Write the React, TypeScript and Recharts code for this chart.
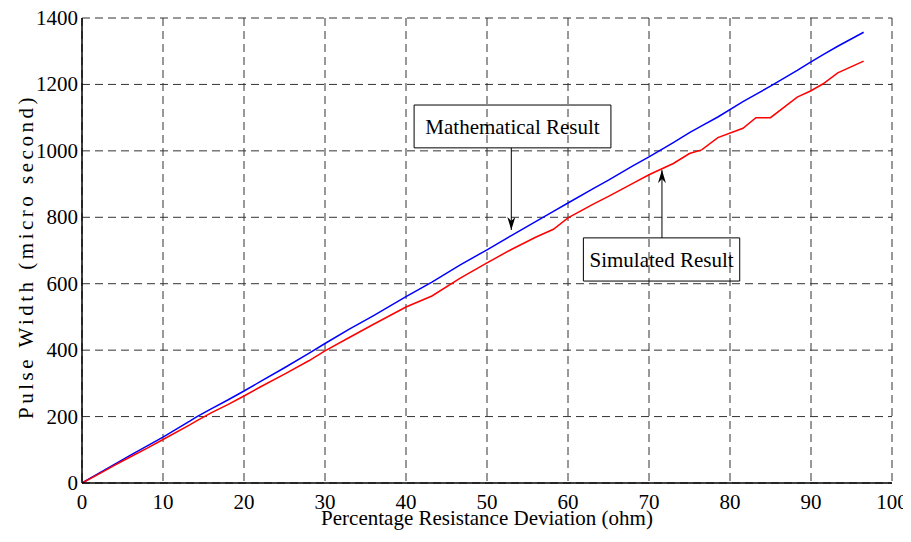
import React from 'react';
import {
  LineChart,
  Line,
  XAxis,
  YAxis,
  CartesianGrid,
  ReferenceArea,
  ReferenceLine,
} from 'recharts';

const deviation = [
  0, 2, 4, 6, 8, 10, 13.3, 14.2, 16, 18, 20, 22, 25, 28, 30, 33, 36, 40, 43.2, 46.7, 50, 53, 56, 58.2, 60,
  63, 65, 68, 70, 73, 75, 76.5, 78.5, 81.6, 83.2, 85, 88.3, 90, 91.5, 93.3, 96.5,
];
const mathematical = [
  0, 28, 56, 84, 111, 138, 186, 200, 224, 250, 277, 305, 347, 390, 420, 463, 504, 561, 605, 657, 702, 745,
  787, 818, 843, 885, 912, 955, 982, 1025, 1055, 1075, 1102, 1148, 1170, 1195, 1242, 1268, 1290, 1315, 1357,
];
const simulated = [
  0, 26, 53, 79, 104, 131, 175, 188, 212, 236, 262, 289, 328, 368, 398, 438, 478, 530, 563, 617, 663, 703,
  740, 764, 798, 838, 863, 902, 928, 962, 992, 1003, 1040, 1068, 1100, 1100, 1162, 1181, 1202, 1235, 1270,
];
const xTicks = [0, 10, 20, 30, 40, 50, 60, 70, 80, 90, 100];
const yTicks = [0, 200, 400, 600, 800, 1000, 1200, 1400];

const data = deviation.map((x, i) => ({ x, math: mathematical[i], sim: simulated[i] }));

const FONT = 'Liberation Serif';

const XTick = (props: any) => {
  const { x, y, payload } = props;
  return (
    <text x={x} y={y + 15} textAnchor="middle" fill="#000" fontSize={21} fontFamily={FONT}>
      {payload.value}
    </text>
  );
};

const YTick = (props: any) => {
  const { x, y, payload } = props;
  return (
    <text x={x} y={y + 7} textAnchor="end" fill="#000" fontSize={21} fontFamily={FONT}>
      {payload.value}
    </text>
  );
};

const YLabel = (props: any) => {
  const vb = props.viewBox || {};
  const cx = vb.x + 33;
  const cy = vb.y + vb.height / 2 + 6;
  return (
    <text
      x={cx}
      y={cy}
      transform={`rotate(-90 ${cx} ${cy})`}
      textAnchor="middle"
      fill="#000"
      fontSize={21}
      fontFamily={FONT}
      letterSpacing={3.5}
    >
      Pulse Width (micro second)
    </text>
  );
};

const XLabel = (props: any) => {
  const vb = props.viewBox || {};
  return (
    <text
      x={vb.x + vb.width / 2}
      y={vb.y + 42}
      textAnchor="middle"
      fill="#000"
      fontSize={21}
      fontFamily={FONT}
    >
      Percentage Resistance Deviation (ohm)
    </text>
  );
};

export default function App() {
  return (
    <div
      style={{
        position: 'relative',
        margin: -8,
        width: 911,
        height: 542,
        overflow: 'hidden',
      }}
    >
      <svg width={0} height={0} style={{ position: 'absolute' }}>
        <defs>
          <marker
            id="arrowHead"
            viewBox="0 0 13 8"
            refX={13}
            refY={4}
            markerWidth={13}
            markerHeight={8}
            markerUnits="userSpaceOnUse"
            orient="auto"
            preserveAspectRatio="none"
          >
            <path d="M0,0 L13,4 L0,8 L4,4 z" fill="#000" />
          </marker>
        </defs>
      </svg>
      <LineChart
        width={911}
        height={542}
        data={data}
        margin={{ top: 18, right: 19, left: 0, bottom: 0 }}
      >
        <CartesianGrid stroke="#333" strokeDasharray="8 5" strokeWidth={1} />
        <XAxis
          dataKey="x"
          type="number"
          domain={[0, 100]}
          ticks={xTicks}
          tick={<XTick />}
          tickLine={false}
          tickSize={6}
          tickMargin={5}
          height={59}
          axisLine={{ stroke: '#000', strokeWidth: 1.5 }}
          label={{ content: XLabel }}
        />
        <XAxis
          xAxisId="top"
          orientation="top"
          type="number"
          dataKey="x"
          domain={[0, 100]}
          ticks={xTicks}
          tick={false}
          tickLine={false}
          height={0}
          axisLine={{ stroke: '#000', strokeWidth: 1.5 }}
        />
        <YAxis
          type="number"
          domain={[0, 1400]}
          ticks={yTicks}
          tick={<YTick />}
          tickLine={false}
          tickSize={2}
          tickMargin={2}
          width={82}
          axisLine={{ stroke: '#000', strokeWidth: 1.5 }}
          label={{ content: YLabel }}
        />
        <YAxis
          yAxisId="right"
          orientation="right"
          type="number"
          domain={[0, 1400]}
          ticks={yTicks}
          tick={false}
          tickLine={false}
          width={0}
          axisLine={{ stroke: '#000', strokeWidth: 1.5 }}
        />
        <Line
          type="linear"
          dataKey="math"
          stroke="#0000ff"
          strokeWidth={1.5}
          dot={false}
          isAnimationActive={false}
        />
        <Line
          type="linear"
          dataKey="sim"
          stroke="#ff0000"
          strokeWidth={1.5}
          dot={false}
          isAnimationActive={false}
        />
        <ReferenceArea
          x1={41}
          x2={65.3}
          y1={1009}
          y2={1138}
          fill="none"
          fillOpacity={0}
          stroke="#000"
          strokeWidth={1}
          label={{ value: 'Mathematical Result', position: 'center', fill: '#000', fontSize: 21, fontFamily: FONT }}
        />
        <ReferenceArea
          x1={61.9}
          x2={81.2}
          y1={608}
          y2={738}
          fill="none"
          fillOpacity={0}
          stroke="#000"
          strokeWidth={1}
          label={{ value: 'Simulated Result', position: 'center', fill: '#000', fontSize: 21, fontFamily: FONT }}
        />
        <ReferenceLine
          segment={[
            { x: 53, y: 1009 },
            { x: 53, y: 762 },
          ]}
          stroke="#000"
          strokeWidth={1}
          markerEnd="url(#arrowHead)"
        />
        <ReferenceLine
          segment={[
            { x: 71.6, y: 738 },
            { x: 71.6, y: 942 },
          ]}
          stroke="#000"
          strokeWidth={1}
          markerEnd="url(#arrowHead)"
        />
      </LineChart>
    </div>
  );
}
